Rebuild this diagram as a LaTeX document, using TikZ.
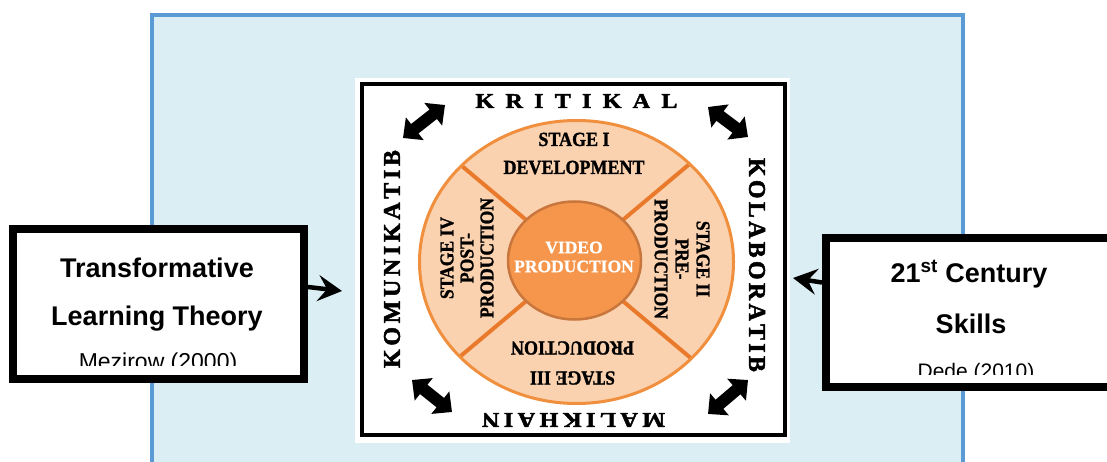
\documentclass[tikz,border=0pt]{standalone}
\usepackage{fontspec}
\setmainfont{Liberation Serif}
\newfontfamily\boxfont{Liberation Sans}
\newfontfamily\condserif[FakeStretch=0.9,BoldFeatures={FakeBold=1.3}]{Liberation Serif}
\newfontfamily\wideserif[FakeStretch=1.15,BoldFeatures={FakeBold=2}]{Liberation Serif}
\newfontfamily\sideserif[BoldFeatures={FakeBold=2}]{Liberation Serif}
\newfontfamily\heavyserif[BoldFeatures={FakeBold=0.8}]{Liberation Serif}
\usetikzlibrary{arrows.meta,shapes.geometric}
\definecolor{frameblue}{HTML}{5B9BD5}
\definecolor{panelblue}{HTML}{DAEEF4}
\definecolor{ringfill}{HTML}{FBD2B0}
\definecolor{ringline}{HTML}{F0903E}
\definecolor{hubfill}{HTML}{F5964C}
\definecolor{hubline}{HTML}{C8763C}
\definecolor{divline}{HTML}{E97A2C}
\newcommand\spreadword[2]{\makebox[#1]{#2}}
\begin{document}
\begin{tikzpicture}[x=1pt,y=-1pt,
  srcbox/.style={draw=black, line width=8pt, fill=white, inner sep=0pt},
  boxtitle/.style={font=\boxfont\bfseries\fontsize{27}{27}\selectfont, anchor=base, inner sep=0pt},
  boxcite/.style={font=\boxfont\fontsize{23}{23}\selectfont, anchor=base, inner sep=0pt},
  stagetext/.style={align=center, inner sep=0pt},
  rimword/.style={font=\wideserif\bfseries\fontsize{21}{21}\selectfont, inner sep=0pt},
  sideword/.style={font=\sideserif\bfseries\fontsize{24}{24}\selectfont, inner sep=0pt},
  hubtext/.style={font=\heavyserif\bfseries\fontsize{17.5}{19}\selectfont, text=white, align=center, inner sep=0pt},
  dblarrow/.style={line width=12pt, {Triangle[width=28pt,length=15pt]}-{Triangle[width=28pt,length=15pt]}},
  feedarrow/.style={line width=4.5pt, -{Stealth[length=24pt,width=26pt,inset=9pt]}},
  divider/.style={divline, line width=4pt}
]
\useasboundingbox (0,0) rectangle (1107,462);
\fill[white] (0,0) rectangle (1107,462);
% blue panel
\fill[panelblue] (152,15) rectangle (963,470);
\draw[frameblue, line width=4pt] (152,470) -- (152,15) -- (963,15) -- (963,470);
% white picture area with black frame
\fill[white] (355,78) rectangle (790,443);
\draw[black, line width=4pt] (362,84) rectangle (785,435);
% ring
\coordinate (ringc) at (576.5,262);
\fill[ringfill] (ringc) ellipse [x radius=157pt, y radius=141.5pt];
\begin{scope}
  \clip (ringc) ellipse [x radius=157pt, y radius=141.5pt];
  \coordinate (hc) at (574.5,260.5);
  \draw[divider] (hc) -- ++(40:220pt);
  \draw[divider] (hc) -- ++(140:220pt);
  \draw[divider] (hc) -- ++(220:220pt);
  \draw[divider] (hc) -- ++(320:220pt);
\end{scope}
\draw[ringline, line width=3pt] (ringc) ellipse [x radius=157pt, y radius=141.5pt];
% hub
\node[ellipse, draw=hubline, line width=2.5pt, fill=hubfill, minimum width=133pt, minimum height=118pt, inner sep=0pt] (hub) at (hc) {};
\node[hubtext] (hubt) at (574,257) {VIDEO\\PRODUCTION};
% stages
\node[stagetext, font=\condserif\bfseries\fontsize{20}{28}\selectfont] (s1) at (574,153.5) {STAGE I\\DEVELOPMENT};
\node[stagetext, font=\condserif\bfseries\fontsize{19.5}{21}\selectfont, rotate=-90] (s2) at (682,259) {STAGE II\\PRE-\\PRODUCTION};
\node[stagetext, font=\condserif\bfseries\fontsize{20}{30}\selectfont, rotate=180] (s3) at (572.5,363) {STAGE III\\PRODUCTION};
\node[stagetext, font=\condserif\bfseries\fontsize{19.5}{20}\selectfont, rotate=90] (s4) at (467,258) {STAGE IV\\POST-\\PRODUCTION};
% rim words
\node[rimword] (kri) at (576.5,101) {\spreadword{202pt}{K\hfill R\hfill I\hfill T\hfill I\hfill K\hfill A\hfill L}};
\node[sideword, rotate=-90] (kol) at (757,265) {\spreadword{214pt}{K\hfill O\hfill L\hfill A\hfill B\hfill O\hfill R\hfill A\hfill T\hfill I\hfill B}};
\node[rimword, rotate=180] (mal) at (573.5,420) {\spreadword{183pt}{M\hfill A\hfill L\hfill I\hfill K\hfill H\hfill A\hfill I\hfill N}};
\node[sideword, rotate=90] (kom) at (392,259) {\spreadword{218pt}{K\hfill O\hfill M\hfill U\hfill N\hfill I\hfill K\hfill A\hfill T\hfill I\hfill B}};
% corner double arrows
\coordinate (tla) at (403,138); \coordinate (tlb) at (445,105);
\coordinate (tra) at (708,107); \coordinate (trb) at (748,137);
\coordinate (bla) at (412,380); \coordinate (blb) at (452,412);
\coordinate (bra) at (708,414); \coordinate (brb) at (748,380);
\draw[dblarrow] (tla) -- (tlb);
\draw[dblarrow] (tra) -- (trb);
\draw[dblarrow] (bla) -- (blb);
\draw[dblarrow] (bra) -- (brb);
% left source box
\node[srcbox, minimum width=291pt, minimum height=150pt] (lbox) at (158.5,304) {};
\begin{scope}
  \clip (17,233) rectangle (300,365);
  \node[boxtitle] (lt1) at (157,277) {Transformative};
  \node[boxtitle] (lt2) at (157,325) {Learning Theory};
  \node[boxcite] (lt3) at (158,369.5) {Mezirow (2000)};
\end{scope}
% right source box
\node[srcbox, minimum width=300pt, minimum height=149pt] (rbox) at (976,312.5) {};
\begin{scope}
  \clip (830,242) rectangle (1107,374);
  \node[boxtitle] (rt1) at (969,282) {21\textsuperscript{st} Century};
  \node[boxtitle] (rt2) at (971,333) {Skills};
  \node[boxcite, font=\boxfont\fontsize{21}{21}\selectfont] (rt3) at (976,378.5) {Dede (2010)};
\end{scope}
% feed arrows
\coordinate (ltip) at (342,291);
\coordinate (rtip) at (793,278);
\draw[feedarrow] ([yshift=17pt]lbox.east) -- (ltip);
\draw[feedarrow] ([yshift=30pt]rbox.west) -- (rtip);
\end{tikzpicture}
\end{document}
